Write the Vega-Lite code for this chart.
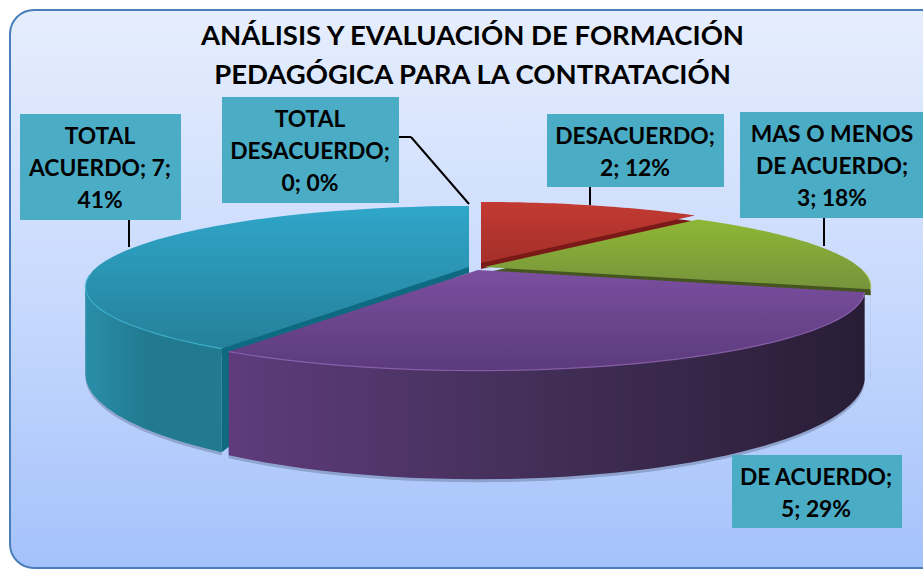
{
"$schema":"https://vega.github.io/schema/vega-lite/v6.json",
"width":923,"height":569,"padding":0,"autosize":{"type":"none"},"background":"white",
"config":{"view":{"stroke":null}},
"title":{"text":["ANÁLISIS Y EVALUACIÓN DE FORMACIÓN","PEDAGÓGICA PARA LA CONTRATACIÓN"],"font":"Lato","fontSize":27.5,"fontWeight":"bold","color":"#000000","anchor":"middle","lineHeight":39,"offset":-89,"dx":11},
"data":{"values":[
{"cat":"TOTAL DESACUERDO","value":0,"pct":0,"label":"TOTAL\nDESACUERDO;\n0; 0%"},
{"cat":"DESACUERDO","value":2,"pct":12,"label":"DESACUERDO;\n2; 12%"},
{"cat":"MAS O MENOS DE ACUERDO","value":3,"pct":18,"label":"MAS O MENOS\nDE ACUERDO;\n3; 18%"},
{"cat":"DE ACUERDO","value":5,"pct":29,"label":"DE ACUERDO;\n5; 29%"},
{"cat":"TOTAL ACUERDO","value":7,"pct":41,"label":"TOTAL\nACUERDO; 7;\n41%"}
]},
"encoding":{
"x":{"field":"px","type":"quantitative","scale":{"domain":[0,923],"nice":false,"zero":false},"axis":null},
"y":{"field":"py","type":"quantitative","scale":{"domain":[569,0],"nice":false,"zero":false},"axis":null}
},
"layer":[
{"data":{"values":[{"part":"chart area"}]},
"transform":[{"calculate":"10","as":"px"},{"calculate":"960","as":"px2"},{"calculate":"10","as":"py"},{"calculate":"568","as":"py2"}],
"mark":{"type":"rect","clip":true,"cornerRadius":24,"stroke":"#4a7ebb","strokeWidth":2,"fill":{"gradient":"linear","x1":0,"y1":0,"x2":0,"y2":1,"stops":[{"offset":0,"color":"#e6eefd"},{"offset":0.5,"color":"#c9dafd"},{"offset":1,"color":"#a4c2fb"}]}},
"encoding":{"x2":{"field":"px2"},"y2":{"field":"py2"}}},
{"transform":[
{"filter":"datum.value>0"},
{"stack":"value","as":["v0","v1"]},
{"joinaggregate":[{"op":"sum","field":"value","as":"total"}]},
{"calculate":"[-1,0,0.025,0.05,0.075,0.1,0.125,0.15,0.175,0.2,0.225,0.25,0.275,0.3,0.325,0.35,0.375,0.4,0.425,0.45,0.475,0.5,0.525,0.55,0.575,0.6,0.625,0.65,0.675,0.7,0.725,0.75,0.775,0.8,0.825,0.85,0.875,0.9,0.925,0.95,0.975,1,1.0001,1.025,1.05,1.075,1.1,1.125,1.15,1.175,1.2,1.225,1.25,1.275,1.3,1.325,1.35,1.375,1.4,1.425,1.45,1.475,1.5,1.525,1.55,1.575,1.6,1.625,1.65,1.675,1.7,1.725,1.75,1.775,1.8,1.825,1.85,1.875,1.9,1.925,1.95,1.975,2]","as":"u"},
{"flatten":["u"]},
{"calculate":"datum.u<=1?datum.u:2-datum.u","as":"t"},
{"calculate":"2*PI*(datum.v0+max(datum.t,0)*(datum.v1-datum.v0))/datum.total","as":"a"},
{"calculate":"1/(1+0.245*cos(datum.a))","as":"s"},
{"calculate":"{'DESACUERDO':3,'MAS O MENOS DE ACUERDO':6,'DE ACUERDO':0,'TOTAL ACUERDO':-9}[datum.cat]","as":"dx"},
{"calculate":"{'DESACUERDO':-5,'MAS O MENOS DE ACUERDO':-1,'DE ACUERDO':2,'TOTAL ACUERDO':-1}[datum.cat]","as":"dy"},
{"calculate":"datum.cat==='TOTAL ACUERDO'?372:375","as":"rad"},
{"calculate":"478+datum.dx+(datum.u<0?0:datum.rad*sin(datum.a)*datum.s)","as":"tx"},
{"calculate":"268+datum.dy-(datum.u<0?0:76*cos(datum.a)*datum.s)","as":"ty"},
{"calculate":"datum.tx","as":"px"},
{"calculate":"datum.ty+(datum.u>1?82*datum.s:0)","as":"py"},
{"calculate":"{'DESACUERDO':['#c23a32','#a52f2a'],'MAS O MENOS DE ACUERDO':['#8fb735','#76933c'],'DE ACUERDO':['#7a4f9f','#5c3a7c'],'TOTAL ACUERDO':['#2fa6c9','#25809a']}[datum.cat]","as":"topc"},
{"calculate":"{gradient:'linear',x1:0,y1:0,x2:0,y2:1,stops:[{offset:0,color:datum.topc[0]},{offset:1,color:datum.topc[1]}]}","as":"topfill"},
{"calculate":"{'DESACUERDO':['#7a1a18','#7a1a18'],'MAS O MENOS DE ACUERDO':['#4f6228','#4a5a20'],'DE ACUERDO':['#5f3b7c','#291d36'],'TOTAL ACUERDO':['#2a8ea9','#217a90']}[datum.cat]","as":"wallc"},
{"calculate":"{gradient:'linear',x1:0,y1:0,x2:1,y2:0,stops:[{offset:0,color:datum.wallc[0]},{offset:0.45,color:datum.wallc[0]==='#5f3b7c'?'#44305a':datum.wallc[1]},{offset:1,color:datum.wallc[1]}]}","as":"wallfill"},
{"calculate":"{'DESACUERDO':'#7a1a18','MAS O MENOS DE ACUERDO':'#45551f','DE ACUERDO':'#3a2650','TOTAL ACUERDO':'#0d6a80'}[datum.cat]","as":"cutc"},
{"calculate":"{'DESACUERDO':'#d8605a','MAS O MENOS DE ACUERDO':'#a6c85a','DE ACUERDO':'#9468b8','TOTAL ACUERDO':'#45bcd8'}[datum.cat]","as":"rimc"}
],
"layer":[
{"transform":[{"filter":"datum.u>=0 && cos(datum.a)<=-0.2"},{"calculate":"datum.py+3","as":"py"}],
"mark":{"type":"line","fill":"#5a6a8a","fillOpacity":0.4,"strokeWidth":0,"interpolate":"linear"},
"encoding":{"detail":{"field":"cat"},"order":{"field":"u","type":"quantitative"}}},
{"transform":[{"filter":"datum.u<=1"},{"calculate":"datum.py+6","as":"py"}],
"mark":{"type":"line","strokeWidth":0,"interpolate":"linear"},
"encoding":{"detail":{"field":"cat"},"order":{"field":"u","type":"quantitative"},"fill":{"field":"cutc","scale":null,"type":"nominal"}}},
{"transform":[{"filter":"datum.cat==='TOTAL ACUERDO' && (datum.u<=0 || datum.u>=2)"}],
"mark":{"type":"line","strokeWidth":0,"interpolate":"linear"},
"encoding":{"detail":{"field":"cat"},"order":{"field":"u","type":"quantitative"},"fill":{"field":"cutc","scale":null,"type":"nominal"}}},
{"transform":[{"filter":"datum.u>=0 && cos(datum.a)<=-0.2"}],
"mark":{"type":"line","strokeWidth":0,"interpolate":"linear"},
"encoding":{"detail":{"field":"cat"},"order":{"field":"u","type":"quantitative"},"fill":{"field":"wallfill","scale":null,"type":"nominal"}}},
{"transform":[{"filter":"datum.u<=1"}],
"mark":{"type":"line","strokeWidth":0,"interpolate":"linear"},
"encoding":{"detail":{"field":"cat"},"order":{"field":"u","type":"quantitative"},"fill":{"field":"topfill","scale":null,"type":"nominal"}}},
{"transform":[{"filter":"datum.u>=0 && datum.u<=1 && (cos(datum.a)<-0.05)"}],
"mark":{"type":"line","strokeWidth":1.2,"interpolate":"linear","opacity":0.8},
"encoding":{"detail":{"field":"cat"},"order":{"field":"u","type":"quantitative"},"stroke":{"field":"rimc","scale":null,"type":"nominal"}}}
]},
{"transform":[
{"filter":"datum.cat!=='DE ACUERDO'"},
{"calculate":"{'TOTAL ACUERDO':[129,129,220,247],'TOTAL DESACUERDO':[411,469,137,204],'DESACUERDO':[590,590,187,205],'MAS O MENOS DE ACUERDO':[824,824,218,246]}[datum.cat]","as":"r"},
{"calculate":"datum.r[0]","as":"px"},{"calculate":"datum.r[1]","as":"px2"},{"calculate":"datum.r[2]","as":"py"},{"calculate":"datum.r[3]","as":"py2"}],
"mark":{"type":"rule","stroke":"#000000","strokeWidth":2},
"encoding":{"x2":{"field":"px2"},"y2":{"field":"py2"}}},
{"transform":[
{"filter":"datum.cat==='TOTAL DESACUERDO'"},
{"calculate":"399","as":"px"},{"calculate":"411","as":"px2"},{"calculate":"137","as":"py"},{"calculate":"137","as":"py2"}],
"mark":{"type":"rule","stroke":"#000000","strokeWidth":2},
"encoding":{"x2":{"field":"px2"},"y2":{"field":"py2"}}},
{"transform":[
{"calculate":"{'TOTAL ACUERDO':[20,181,114,220],'TOTAL DESACUERDO':[222,399,97,203],'DESACUERDO':[547,724,114,187],'MAS O MENOS DE ACUERDO':[740,930,112,218],'DE ACUERDO':[732,902,455,528]}[datum.cat]","as":"b"},
{"calculate":"datum.b[0]","as":"px"},{"calculate":"datum.b[1]","as":"px2"},{"calculate":"datum.b[2]","as":"py"},{"calculate":"datum.b[3]","as":"py2"}],
"mark":{"type":"rect","fill":"#4bacc6","clip":true},
"encoding":{"x2":{"field":"px2"},"y2":{"field":"py2"}}},
{"transform":[
{"calculate":"{'TOTAL ACUERDO':[100,137],'TOTAL DESACUERDO':[310,120],'DESACUERDO':[635,137],'MAS O MENOS DE ACUERDO':[832,135],'DE ACUERDO':[816,478]}[datum.cat]","as":"c"},
{"calculate":"datum.c[0]","as":"px"},{"calculate":"datum.c[1]","as":"py"}],
"mark":{"type":"text","font":"Lato","fontWeight":"bold","fontSize":22.8,"lineBreak":"\n","lineHeight":32,"align":"center","baseline":"middle","color":"#000000"},
"encoding":{"text":{"field":"label"}}}
]
}
